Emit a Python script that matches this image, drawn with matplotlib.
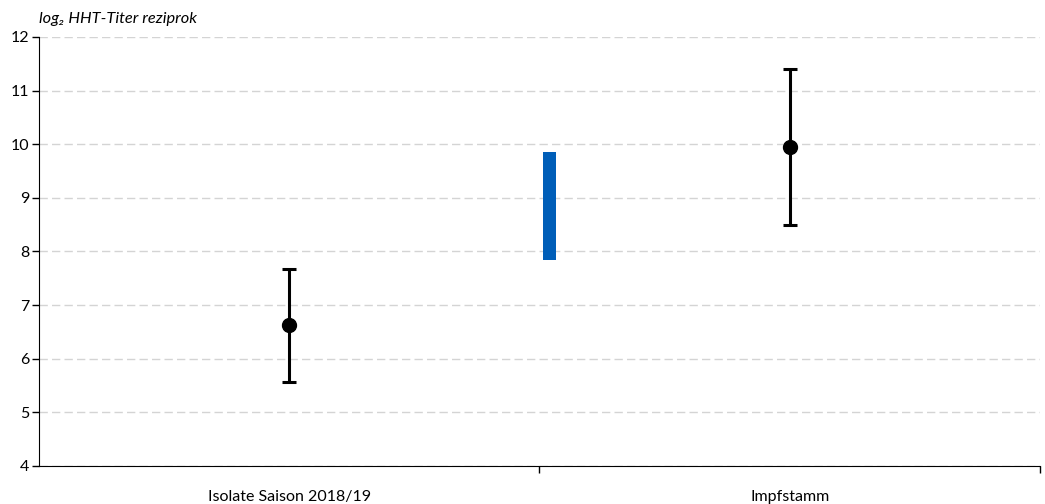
import numpy as np
import matplotlib.pyplot as plt

plt.rcParams['font.family'] = ['Lato', 'DejaVu Sans']

categories = ['Isolate Saison 2018/19', 'Impfstamm']
means = np.array([6.62, 9.95])
upper = np.array([7.68, 11.40])
lower = np.array([5.56, 8.50])
range_low = 7.85
range_high = 9.85

fig = plt.figure(figsize=(10.45, 5.04), dpi=100)
ax = fig.add_axes([0.0373, 0.0754, 0.9579, 0.8512])

x = np.arange(len(categories))
ax.errorbar(x, means, yerr=[means - lower, upper - means], fmt='o', color='black',
            ecolor='black', elinewidth=2.2, capsize=5, capthick=2.2, markersize=10, zorder=3)

ax.bar(0.52, range_high - range_low, bottom=range_low, width=0.026, color='#005eb8', zorder=3)

ax.set_xlim(-0.5, 1.5)
ax.set_ylim(4, 12)
ax.set_yticks(range(4, 13))
ax.yaxis.grid(True, linestyle=(0, (6, 3)), color='#d4d4d4', linewidth=1)
ax.set_axisbelow(True)

ax.set_xticks([0.5, 1.5])
ax.set_xticklabels([])
ax.set_xticks(x, minor=True)
ax.set_xticklabels(categories, minor=True, fontsize=11.5)
ax.tick_params(axis='x', which='minor', length=0, pad=17)
ax.tick_params(axis='x', which='major', length=5, width=1)
ax.tick_params(axis='y', length=5, width=1, labelsize=11.5, pad=2)

for s in ['top', 'right']:
    ax.spines[s].set_visible(False)

fig.text(0.037, 0.962, 'log₂ HHT-Titer reziprok', style='italic', fontsize=11.8, va='center')

fig.savefig('out.png', dpi=100)
